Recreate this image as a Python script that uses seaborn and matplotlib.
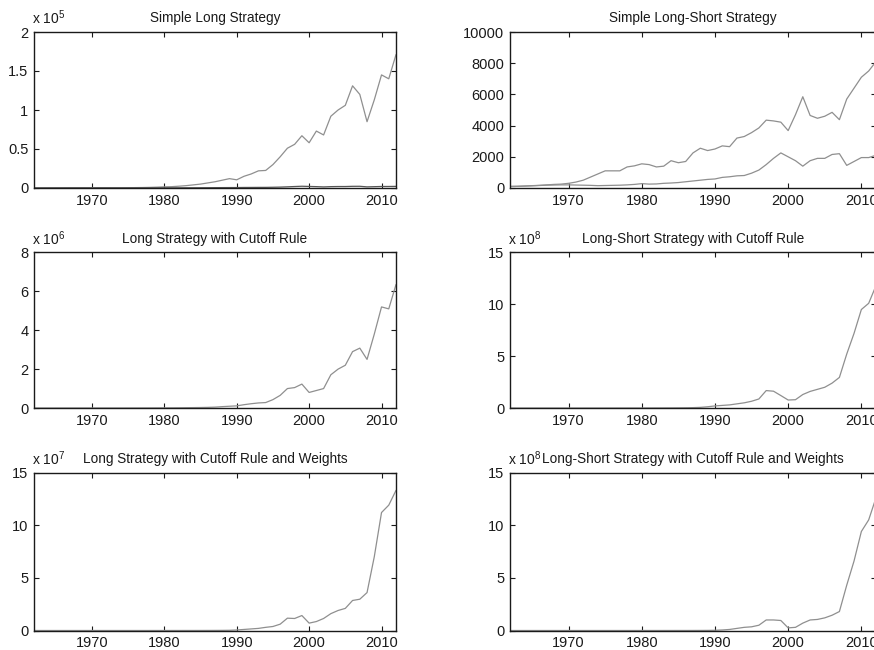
import numpy as np
import matplotlib
matplotlib.use('Agg')
import matplotlib.pyplot as plt
import seaborn as sns
from matplotlib.ticker import FuncFormatter

# Years on the x axis
years = list(range(1962, 2013))

# Simple long strategy (x 1e5)
simple_long = [0.001, 0.0012, 0.0015, 0.0017, 0.0018, 0.0022, 0.0026, 0.0025, 0.0022, 0.0027,
               0.0032, 0.003, 0.0025, 0.0038, 0.005, 0.006, 0.008, 0.011, 0.015, 0.017,
               0.023, 0.03, 0.04, 0.05, 0.065, 0.08, 0.10, 0.12, 0.105, 0.15,
               0.18, 0.22, 0.225, 0.30, 0.40, 0.51, 0.56, 0.67, 0.58, 0.73,
               0.68, 0.92, 1.00, 1.06, 1.31, 1.20, 0.85, 1.13, 1.45, 1.40, 1.71]

# Benchmark line (raw values)
benchmark = [100, 105, 120, 140, 160, 180, 190, 200, 200, 190,
             180, 170, 150, 160, 170, 180, 200, 230, 280, 250,
             260, 300, 320, 350, 400, 450, 500, 550, 580, 680,
             720, 780, 800, 950, 1150, 1500, 1900, 2250, 2000, 1750,
             1400, 1750, 1900, 1900, 2150, 2200, 1450, 1700, 1950, 1950, 2100]

# Simple long-short strategy (raw values)
simple_long_short = [100, 110, 130, 150, 170, 200, 230, 250, 300, 380,
                     500, 700, 900, 1100, 1100, 1100, 1350, 1420, 1550, 1500,
                     1350, 1400, 1750, 1620, 1700, 2250, 2550, 2400, 2500, 2700,
                     2650, 3200, 3300, 3550, 3850, 4350, 4300, 4220, 3680, 4700,
                     5850, 4650, 4470, 4600, 4850, 4380, 5700, 6400, 7100, 7500, 8100]

# Long strategy with cutoff rule (x 1e6)
long_cutoff = [0.001, 0.001, 0.0012, 0.0013, 0.0014, 0.0016, 0.0018, 0.002, 0.002, 0.0022,
               0.0025, 0.0025, 0.0022, 0.0028, 0.0033, 0.004, 0.005, 0.006, 0.008, 0.009,
               0.012, 0.016, 0.02, 0.025, 0.032, 0.045, 0.07, 0.09, 0.11, 0.17,
               0.22, 0.26, 0.28, 0.43, 0.65, 1.0, 1.05, 1.23, 0.8, 0.9,
               1.0, 1.71, 2.0, 2.2, 2.9, 3.08, 2.5, 3.8, 5.2, 5.1, 6.35]

# Long-short strategy with cutoff rule (x 1e8)
long_short_cutoff = [0.0001, 0.0001, 0.0001, 0.0002, 0.0002, 0.0003, 0.0003, 0.0004, 0.0005, 0.0006,
                     0.0008, 0.001, 0.0012, 0.0015, 0.002, 0.0025, 0.003, 0.004, 0.005, 0.006,
                     0.008, 0.01, 0.013, 0.018, 0.025, 0.035, 0.06, 0.12, 0.2, 0.25,
                     0.3, 0.4, 0.5, 0.65, 0.87, 1.68, 1.62, 1.2, 0.77, 0.8,
                     1.3, 1.6, 1.8, 2.0, 2.4, 2.95, 5.2, 7.2, 9.5, 10.1, 11.8]

# Long strategy with cutoff rule and weights (x 1e7)
long_cutoff_weights = [0.0001, 0.0001, 0.0001, 0.0001, 0.0002, 0.0002, 0.0002, 0.0003, 0.0003, 0.0003,
                       0.0004, 0.0004, 0.0004, 0.0005, 0.0006, 0.0007, 0.0008, 0.001, 0.0012, 0.0015,
                       0.002, 0.0025, 0.003, 0.004, 0.006, 0.008, 0.012, 0.02, 0.05, 0.1,
                       0.15, 0.2, 0.3, 0.38, 0.6, 1.17, 1.14, 1.42, 0.7, 0.85,
                       1.14, 1.6, 1.9, 2.1, 2.85, 2.97, 3.6, 7.0, 11.2, 11.9, 13.3]

# Long-short strategy with cutoff rule and weights (x 1e8)
long_short_cutoff_weights = [0.0001, 0.0001, 0.0001, 0.0001, 0.0001, 0.0001, 0.0002, 0.0002, 0.0002, 0.0002,
                             0.0003, 0.0003, 0.0003, 0.0004, 0.0004, 0.0005, 0.0006, 0.0007, 0.0008, 0.001,
                             0.0012, 0.0015, 0.002, 0.0025, 0.003, 0.004, 0.006, 0.01, 0.02, 0.05,
                             0.1, 0.2, 0.3, 0.35, 0.5, 1.0, 1.0, 0.95, 0.25, 0.3,
                             0.7, 1.0, 1.05, 1.2, 1.45, 1.8, 4.3, 6.6, 9.4, 10.5, 12.6]

benchmark_1e5 = [v / 1e5 for v in benchmark]

# Style
sns.set_style('ticks')
plt.rcParams['font.family'] = ['Liberation Sans', 'DejaVu Sans']
plt.rcParams['mathtext.fontset'] = 'custom'
plt.rcParams['mathtext.rm'] = 'Liberation Sans'
plt.rcParams['mathtext.default'] = 'regular'

fig = plt.figure(figsize=(8.74, 6.5), dpi=100)

widths = [362 / 874, 366 / 874]
lefts = [34 / 874, 510 / 874]
rows = [(1 - 188 / 650, 156 / 650), (1 - 408 / 650, 155.5 / 650), (1 - 630.5 / 650, 158 / 650)]

panels = [
    ('Simple Long Strategy', [simple_long, benchmark_1e5], (0, 2), [0, 0.5, 1, 1.5, 2], '5'),
    ('Simple Long-Short Strategy', [simple_long_short, benchmark], (0, 10000),
     [0, 2000, 4000, 6000, 8000, 10000], None),
    ('Long Strategy with Cutoff Rule', [long_cutoff], (0, 8), [0, 2, 4, 6, 8], '6'),
    ('Long-Short Strategy with Cutoff Rule', [long_short_cutoff], (0, 15), [0, 5, 10, 15], '8'),
    ('Long Strategy with Cutoff Rule and Weights', [long_cutoff_weights], (0, 15), [0, 5, 10, 15], '7'),
    ('Long-Short Strategy with Cutoff Rule and Weights', [long_short_cutoff_weights], (0, 15),
     [0, 5, 10, 15], '8'),
]

ink = '#1a1a1a'

for i, (title, series, ylim, yticks, exp) in enumerate(panels):
    r, c = divmod(i, 2)
    bottom, height = rows[r]
    ax = fig.add_axes([lefts[c], bottom, widths[c], height])
    for j, vals in enumerate(series):
        col = '#555555' if (i == 0 and j == 1) else '#8f8f8f'
        sns.lineplot(x=years, y=vals, ax=ax, color=col, linewidth=0.9)
    ax.set_xlim(1962, 2012)
    ax.set_ylim(*ylim)
    ax.set_xticks([1970, 1980, 1990, 2000, 2010])
    ax.set_yticks(yticks)
    ax.yaxis.set_major_formatter(FuncFormatter(lambda v, p: '%g' % v))
    ax.tick_params(direction='in', length=3.5, width=0.8, top=True, right=True,
                   labelsize=10.5, colors=ink, pad=4)
    ax.tick_params(axis='x', pad=4)
    for s in ax.spines.values():
        s.set_linewidth(1.0)
        s.set_color(ink)
    ax.set_xlabel('')
    ax.set_ylabel('')
    ax.set_title(title, fontsize=9.8, pad=7, color=ink)
    if exp is not None:
        ax.text(-0.005, 1.03, 'x 10$^{%s}$' % exp, transform=ax.transAxes,
                ha='left', va='bottom', fontsize=10, color=ink)

fig.savefig('out.png', dpi=100)
